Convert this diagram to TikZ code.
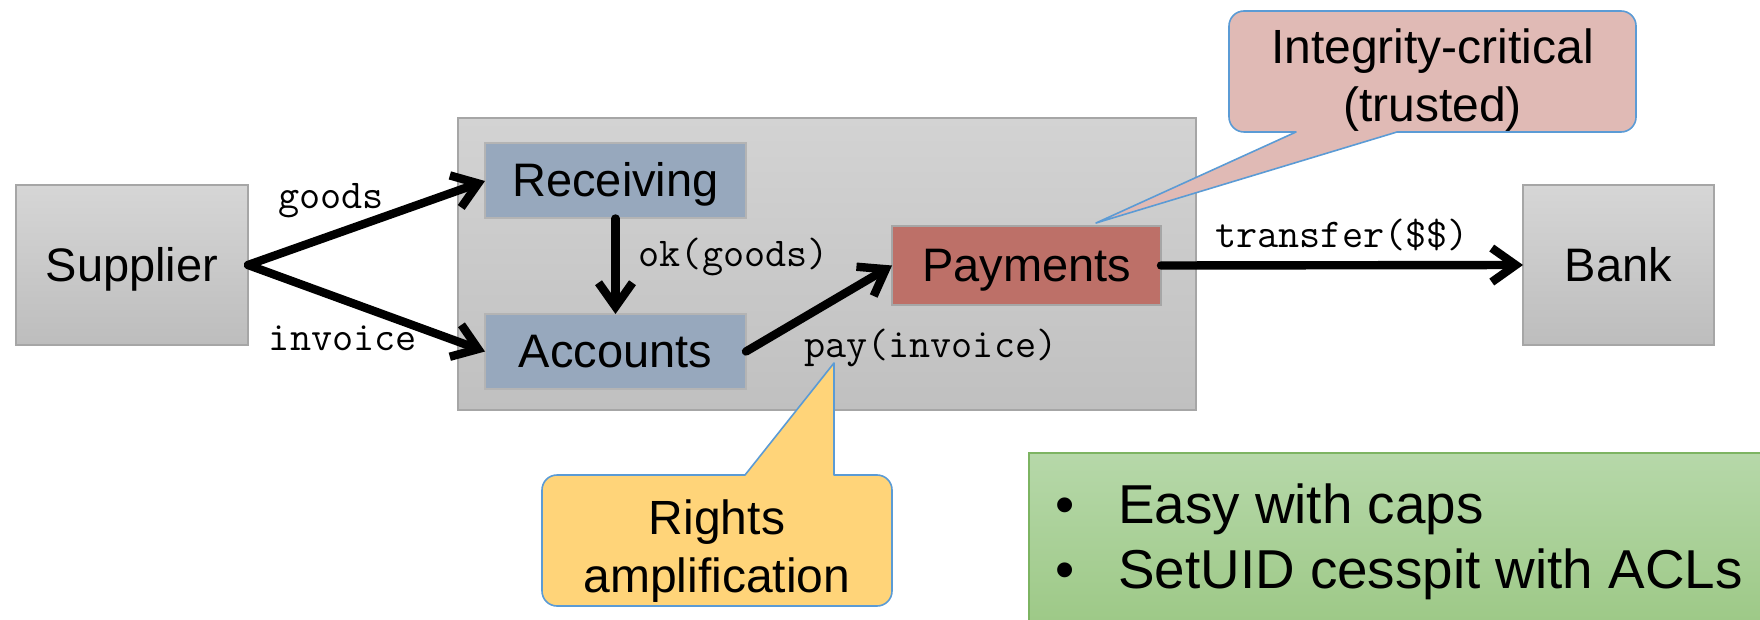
\documentclass[tikz,border=0pt]{standalone}
\usepackage{fontspec}
\setmainfont{Liberation Sans}
\usepackage{tikz}
\usetikzlibrary{arrows.meta,backgrounds}

\definecolor{extline}{HTML}{A6A6A6}
\definecolor{exttop}{HTML}{D6D6D6}
\definecolor{extbot}{HTML}{BDBDBD}
\definecolor{systop}{HTML}{D3D3D3}
\definecolor{sysbot}{HTML}{C0C0C0}
\definecolor{unitfill}{HTML}{97A8BD}
\definecolor{unitline}{HTML}{B4B4B4}
\definecolor{payfill}{HTML}{BD7068}
\definecolor{critfill}{HTML}{E0BAB5}
\definecolor{ampfill}{HTML}{FFD479}
\definecolor{callline}{HTML}{5B9BD5}
\definecolor{notetop}{HTML}{B6D8A9}
\definecolor{notebot}{HTML}{9CC885}
\definecolor{noteline}{HTML}{7DB462}

\begin{document}
\begin{tikzpicture}[x=0.5pt, y=-0.5pt,
  big/.style={font=\fontsize{23.5}{28}\selectfont, text height=21pt, text depth=5pt},
  ext/.style={big, draw=extline, line width=1pt, top color=exttop, bottom color=extbot, minimum width=116pt, minimum height=80pt, outer sep=0pt},
  unit/.style={big, draw=unitline, line width=1pt, fill=unitfill, minimum width=130.5pt, minimum height=37.5pt, outer sep=0pt},
  flow/.style={line width=4.2pt, line cap=round, line join=round, -{Straight Barb[length=12pt,width=17pt]}},
  lbl/.style={font=\fontsize{20.5}{24}\selectfont\ttfamily, inner sep=2pt},
  call/.style={align=center, outer sep=0pt, inner ysep=0pt, font=\fontsize{24}{29}\selectfont},
  callout/.style={draw=callline, line width=0.8pt, line join=round}]
\useasboundingbox (0,0) rectangle (1760,620);
\clip (0,0) rectangle (1760,620);

\node[ext] (sup) at (132,265) {Supplier};
\node[unit] (rec) at (615.5,181) {Receiving};
\node[unit] (acc) at (615.5,351.5) {Accounts};
\node[unit, fill=payfill, draw=extline, minimum width=134.5pt, minimum height=39.5pt] (pay) at (1026.5,265.5) {Payments};
\node[ext, minimum width=95.5pt] (bank) at (1618.5,265) {Bank};

\begin{scope}[on background layer]
\node[draw=extline, line width=1pt, top color=systop, bottom color=sysbot, minimum width=369pt, minimum height=146pt] (sys) at (827,264) {};
\end{scope}

% flows
\draw[flow] (sup.east) -- node[lbl, pos=0.35, above=5pt] {goods} (rec.west);
\draw[flow] (sup.east) -- node[lbl, pos=0.4, below=9pt] {invoice} (acc.west);
\draw[flow] (rec.south) -- node[lbl, pos=0.4, right=7.5pt] {ok(goods)} (acc.north);
\draw[flow] (acc.east) -- node[lbl, pos=0.3, anchor=north west, xshift=3pt, yshift=2.5pt] (payl) {pay(invoice)} (pay.west);
\draw[flow] (pay.east) -- node[lbl, midway, above=3pt] {transfer(\$\$)} (bank.west);

% callouts
\node[call, minimum width=203.5pt, minimum height=60.5pt, text height=54.5pt] (crit) at (1432.5,71.5) {Integrity-critical\\(trusted)};
\node[call, minimum width=175pt, minimum height=65.5pt, text height=56.5pt] (amp) at (717,540.5) {Rights\\amplification};
\coordinate (crittip) at (1096,223);
\coordinate (amptip) at (834,363);
\begin{scope}[on background layer]
\draw[callout, fill=critfill] (crit.north) [rounded corners=7.5pt] -- (crit.north east) -- (crit.south east)
  [sharp corners] -- ([xshift=-17.75pt]crit.south) -- (crittip) -- ([xshift=-68.25pt]crit.south)
  [rounded corners=7.5pt] -- (crit.south west) -- (crit.north west) -- cycle;
\draw[callout, fill=ampfill] (amp.south) [rounded corners=7.5pt] -- (amp.south west) -- (amp.north west)
  [sharp corners] -- ([xshift=14pt]amp.north) -- (amptip) -- ([xshift=58.5pt]amp.north)
  [rounded corners=7.5pt] -- (amp.north east) -- (amp.south east) -- cycle;
\end{scope}

% notes
\node[draw=noteline, line width=1pt, top color=notetop, bottom color=notebot, anchor=north west, minimum width=380pt, minimum height=90pt] (note) at (1028,452) {};
\node[anchor=west, align=left, font=\fontsize{27.4}{32.5}\selectfont] (pts) at (1048,542) {•\hspace{22pt}Easy with caps\\•\hspace{22pt}SetUID cesspit with ACLs};
\end{tikzpicture}
\end{document}
